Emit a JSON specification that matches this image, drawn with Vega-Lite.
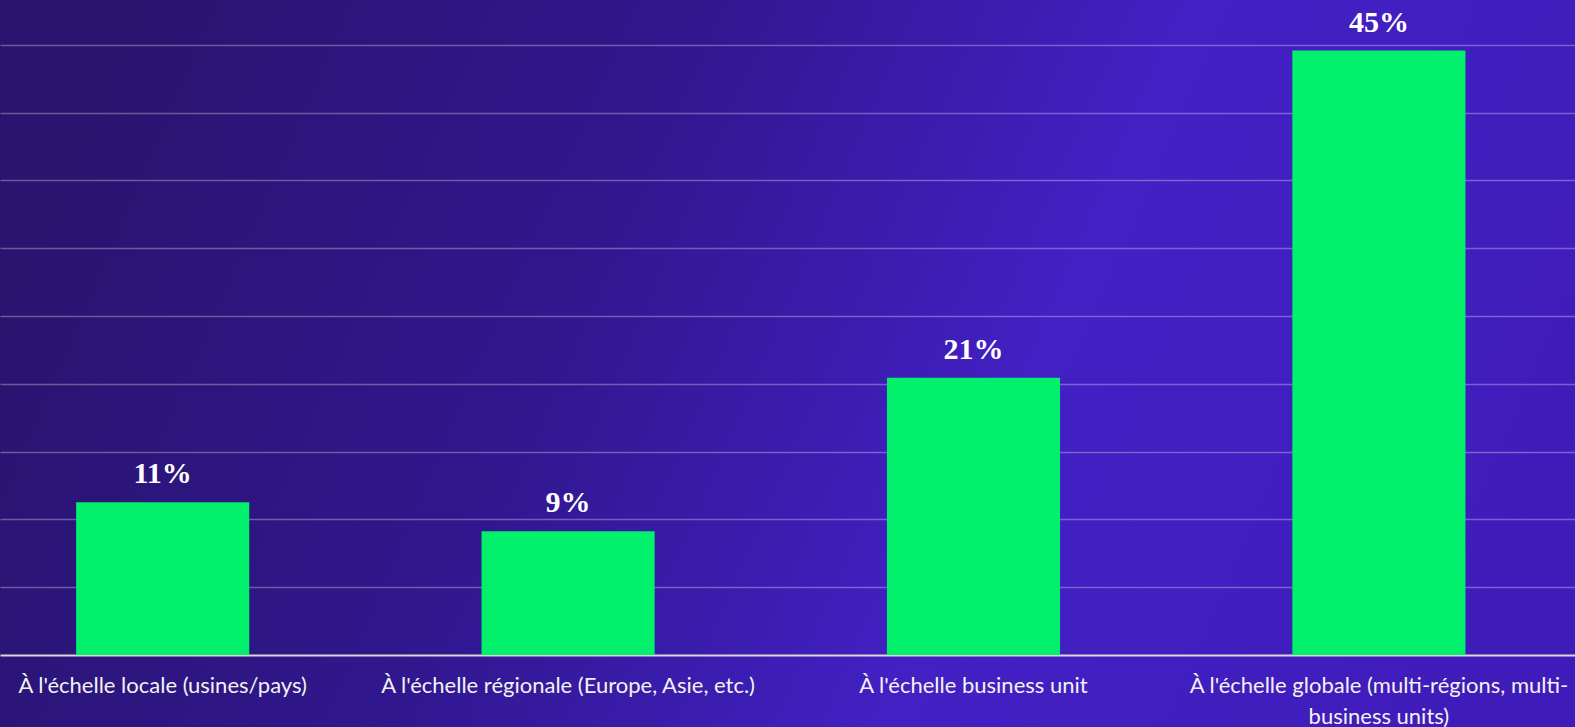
{
  "$schema": "https://vega.github.io/schema/vega-lite/v6.json",
  "width": 1575,
  "height": 727,
  "autosize": {"type": "none"},
  "padding": 0,
  "background": "#2e168a",
  "config": {
    "view": {
      "stroke": null,
      "fill": {
        "gradient": "linear",
        "x1": 0, "y1": 0.4, "x2": 1, "y2": 0.6,
        "stops": [
          {"offset": 0, "color": "#29146f"},
          {"offset": 0.35, "color": "#30178e"},
          {"offset": 0.65, "color": "#4220c4"},
          {"offset": 1, "color": "#3f1cba"}
        ]
      }
    }
  },
  "data": {
    "values": [
      {"category": "À l'échelle locale (usines/pays)", "value": 11.27, "label": "11%"},
      {"category": "À l'échelle régionale (Europe, Asie, etc.)", "value": 9.12, "label": "9%"},
      {"category": "À l'échelle business unit", "value": 20.45, "label": "21%"},
      {"category": "À l'échelle globale (multi-régions, multi-business units)", "value": 44.57, "label": "45%"}
    ]
  },
  "encoding": {
    "x": {
      "field": "category",
      "type": "nominal",
      "sort": null,
      "title": null,
      "scale": {"paddingInner": 0.573, "paddingOuter": 0.229, "align": 0.41},
      "axis": {
        "orient": "bottom",
        "offset": -72,
        "domainColor": "#d9d9d9",
        "domainWidth": 2,
        "ticks": false,
        "labelAngle": 0,
        "labelLimit": 0,
        "labelFont": "Lato",
        "labelFontSize": 22,
        "labelColor": "#f2f2f2",
        "labelPadding": 20,
        "labelLineHeight": 31,
        "labelExpr": "length(datum.label) > 45 ? [substring(datum.label, 0, 42), substring(datum.label, 42)] : datum.label"
      }
    },
    "y": {
      "field": "value",
      "type": "quantitative",
      "title": null,
      "scale": {"domain": [-5.31, 48.3], "nice": false, "zero": false},
      "axis": {
        "values": [5, 10, 15, 20, 25, 30, 35, 40, 45],
        "labels": false,
        "ticks": false,
        "domain": false,
        "grid": true,
        "gridColor": "#ffffff",
        "gridOpacity": 0.3,
        "gridWidth": 1.5
      }
    }
  },
  "layer": [
    {
      "mark": {"type": "bar", "color": "#02f06b"},
      "encoding": {"y2": {"datum": 0}}
    },
    {
      "mark": {
        "type": "text",
        "baseline": "alphabetic",
        "dy": -19,
        "font": "Liberation Serif",
        "fontWeight": "bold",
        "fontSize": 30,
        "color": "#ffffff"
      },
      "encoding": {"text": {"field": "label"}}
    }
  ]
}
